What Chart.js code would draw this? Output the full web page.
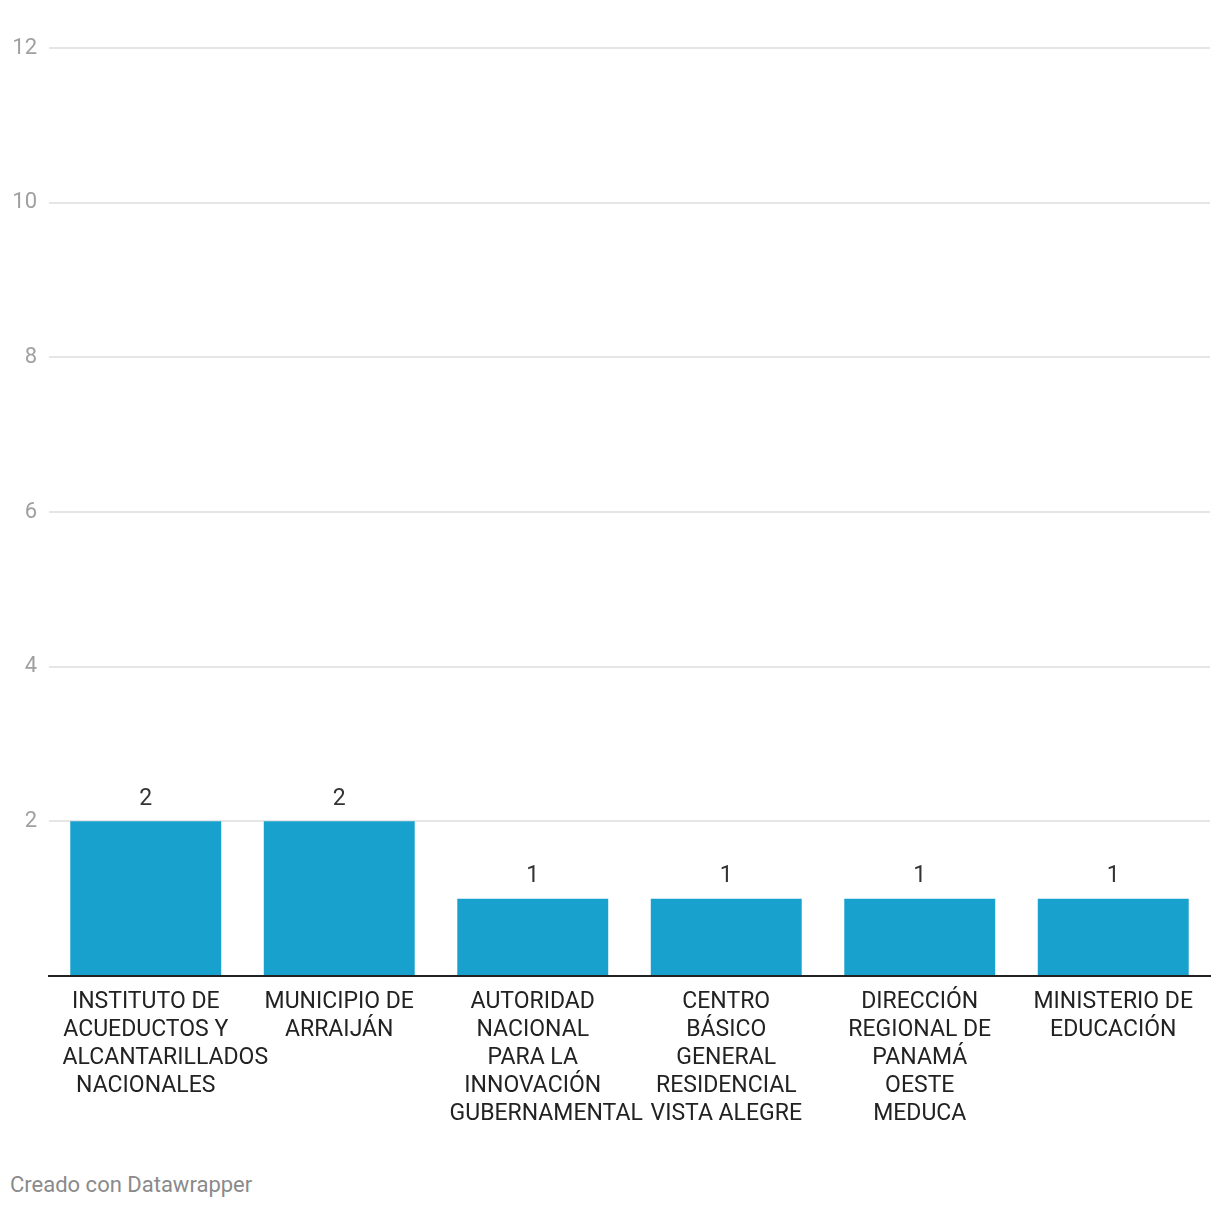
<!DOCTYPE html>
<html>
<head>
<meta charset="utf-8">
<script src="https://cdn.jsdelivr.net/npm/chart.js@4"></script>
<style>
  html, body { margin: 0; padding: 0; background: #fff; }
  #wrap { position: relative; width: 1220px; height: 1208px; }
  #c { position: absolute; left: 0; top: 0; }
  #footer { position: absolute; left: 10px; top: 1170px; font-family: Roboto, sans-serif; font-size: 22px; color: #8a8a8a; line-height: 30px; }
</style>
</head>
<body>
<div id="wrap">
  <canvas id="c" width="1220" height="1150"></canvas>
  <div id="footer">Creado con Datawrapper</div>
</div>
<script>
const categories = [
  ["INSTITUTO DE", "ACUEDUCTOS Y", "ALCANTARILLADOS", "NACIONALES"],
  ["MUNICIPIO DE", "ARRAIJÁN"],
  ["AUTORIDAD", "NACIONAL", "PARA LA", "INNOVACIÓN", "GUBERNAMENTAL"],
  ["CENTRO", "BÁSICO", "GENERAL", "RESIDENCIAL", "VISTA ALEGRE"],
  ["DIRECCIÓN", "REGIONAL DE", "PANAMÁ", "OESTE", "MEDUCA"],
  ["MINISTERIO DE", "EDUCACIÓN"]
];
const values = [2, 2, 1, 1, 1, 1];
const yTickLabels = [2, 4, 6, 8, 10, 12];

const valueLabels = {
  id: 'valueLabels',
  afterDatasetsDraw(chart) {
    const ctx = chart.ctx;
    const meta = chart.getDatasetMeta(0);
    ctx.save();
    ctx.font = '23px Roboto';
    ctx.fillStyle = '#333333';
    ctx.textAlign = 'center';
    ctx.textBaseline = 'middle';
    meta.data.forEach((bar, i) => {
      ctx.fillText(String(values[i]), bar.x, bar.y - 22);
    });
    ctx.restore();
  }
};

// Category labels drawn like Datawrapper: centred in a fixed-width box,
// lines wider than the box overflow to the right from the box's left edge.
const categoryLabels = {
  id: 'categoryLabels',
  afterDraw(chart) {
    const ctx = chart.ctx;
    const xs = chart.scales.x;
    const step = xs.width / categories.length;
    const half = step * 0.43;
    ctx.save();
    ctx.font = '23px Roboto';
    ctx.fillStyle = '#222222';
    ctx.textBaseline = 'middle';
    categories.forEach((lines, i) => {
      const cx = xs.getPixelForValue(i);
      lines.forEach((line, j) => {
        const y = xs.top + 26.5 + j * 28;
        const w = ctx.measureText(line).width;
        if (w > half * 2) {
          ctx.textAlign = 'left';
          ctx.fillText(line, cx - half, y);
        } else {
          ctx.textAlign = 'center';
          ctx.fillText(line, cx, y);
        }
      });
    });
    ctx.restore();
  }
};

new Chart(document.getElementById('c'), {
  type: 'bar',
  data: {
    labels: categories,
    datasets: [{
      data: values,
      backgroundColor: '#18a1cd',
      barPercentage: 0.78,
      categoryPercentage: 1.0
    }]
  },
  options: {
    responsive: false,
    animation: false,
    devicePixelRatio: 1,
    layout: { padding: { top: 48, left: 0, right: 10, bottom: 0 } },
    plugins: { legend: { display: false }, tooltip: { enabled: false } },
    scales: {
      x: {
        grid: { display: false, drawTicks: false },
        border: { display: true, color: '#222222', width: 2 },
        ticks: { display: false },
        afterFit(scale) { scale.height = 174; }
      },
      y: {
        min: 0, max: 12,
        grid: { color: '#e6e6e6', lineWidth: 2, drawTicks: false },
        border: { display: false },
        ticks: {
          stepSize: 2,
          padding: 12,
          color: '#a0a0a0',
          font: { family: 'Roboto', size: 22 },
          callback: (v) => yTickLabels.includes(v) ? String(v) : ''
        },
        afterFit(scale) { scale.width = 49; }
      }
    }
  },
  plugins: [valueLabels, categoryLabels]
});
</script>
</body>
</html>
